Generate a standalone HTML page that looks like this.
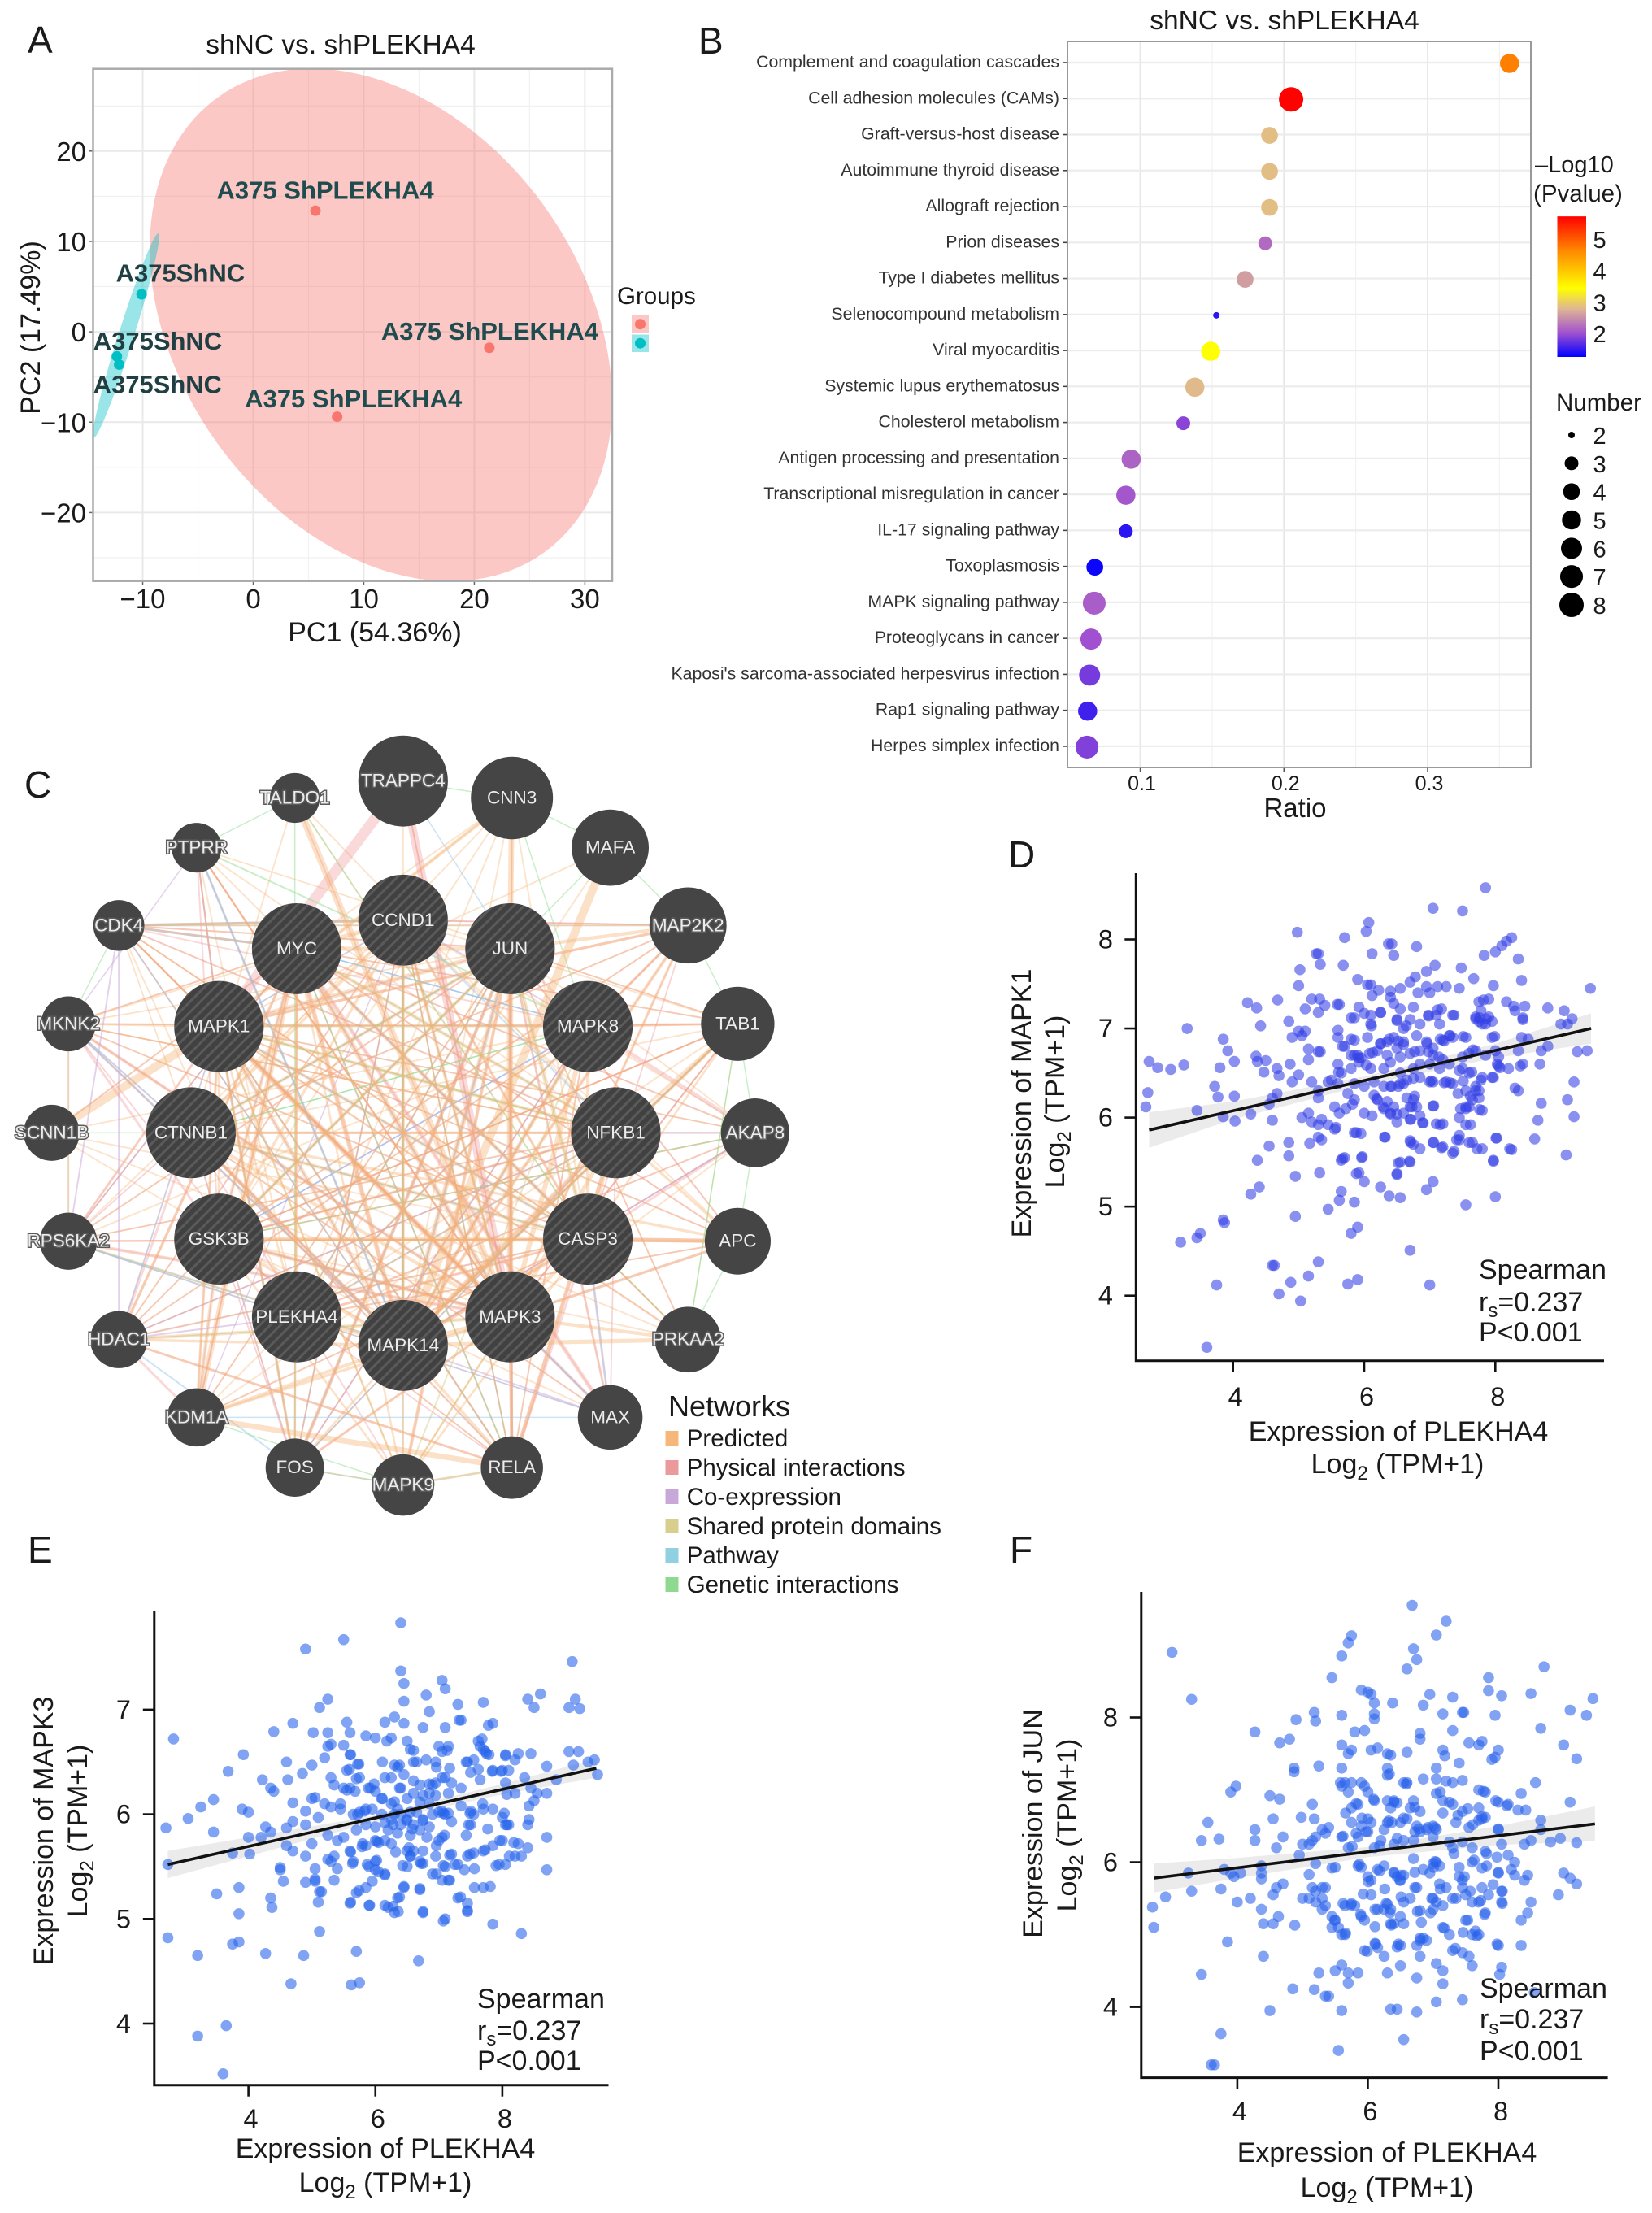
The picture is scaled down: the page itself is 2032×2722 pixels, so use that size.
<!DOCTYPE html>
<html lang="en"><head><meta charset="utf-8"><title>shNC vs. shPLEKHA4 figure</title>
<style>
html,body{margin:0;padding:0;background:#fff}
svg{display:block}
text{font-family:"Liberation Sans",Arial,sans-serif;fill:#1a1a1a}
</style></head>
<body>
<svg id="fig" xmlns="http://www.w3.org/2000/svg" width="2032" height="2722" viewBox="0 0 2032 2722">
<defs>
<pattern id="hatch" patternUnits="userSpaceOnUse" width="9" height="9" patternTransform="rotate(45)"><rect width="9" height="9" fill="#414141"/><rect width="3" height="9" fill="#5a5a5a"/></pattern>
<linearGradient id="cbar" x1="0" y1="1" x2="0" y2="0"></linearGradient>
<clipPath id="clipA"><rect x="114.5" y="84.7" width="638.5" height="630"/></clipPath>
</defs>
<rect width="2032" height="2722" fill="#fff"/>

<g id="panelA"></g>
<g id="panelB"></g>
<g id="panelC"></g>
<g id="panelD"></g>
<g id="panelE"></g>
<g id="panelF"></g>

<text x="34" y="65" font-size="46">A</text>
<text x="859" y="66" font-size="46">B</text>
<text x="30" y="981" font-size="46">C</text>
<text x="1240" y="1067" font-size="46">D</text>
<text x="34" y="1922" font-size="46">E</text>
<text x="1242" y="1922" font-size="46">F</text>

<text x="419" y="66" font-size="33.5" text-anchor="middle">shNC vs. shPLEKHA4</text>
<text x="461" y="789" font-size="34" text-anchor="middle">PC1 (54.36%)</text>
<text transform="translate(49,403) rotate(-90)" font-size="34" text-anchor="middle">PC2 (17.49%)</text>
<text x="759" y="374" font-size="29.5">Groups</text>

<text x="1580" y="36" font-size="33.5" text-anchor="middle">shNC vs. shPLEKHA4</text>
<text x="1593" y="1005" font-size="33" text-anchor="middle">Ratio</text>
<text x="1888" y="212" font-size="29">–Log10</text>
<text x="1886" y="248" font-size="29.5">(Pvalue)</text>
<text x="1914" y="505" font-size="29.5">Number</text>

<text x="822" y="1742" font-size="36">Networks</text>

<text x="1720" y="1772" font-size="34" text-anchor="middle">Expression of PLEKHA4</text>
<text x="1719" y="1812" font-size="34" text-anchor="middle">Log<tspan dy="8" font-size="24">2</tspan><tspan dy="-8"> (TPM+1)</tspan></text>
<text transform="translate(1268,1357) rotate(-90)" font-size="34" text-anchor="middle">Expression of MAPK1</text>
<text transform="translate(1309,1355) rotate(-90)" font-size="34" text-anchor="middle">Log<tspan dy="8" font-size="24">2</tspan><tspan dy="-8"> (TPM+1)</tspan></text>
<text x="1819" y="1573" font-size="34">Spearman</text>
<text x="1819" y="1613" font-size="34">r<tspan dy="7" font-size="24">s</tspan><tspan dy="-7">=0.237</tspan></text>
<text x="1819" y="1650" font-size="34">P&lt;0.001</text>

<text x="474" y="2654" font-size="34" text-anchor="middle">Expression of PLEKHA4</text>
<text x="474" y="2696" font-size="34" text-anchor="middle">Log<tspan dy="8" font-size="24">2</tspan><tspan dy="-8"> (TPM+1)</tspan></text>
<text transform="translate(65,2252) rotate(-90)" font-size="34" text-anchor="middle">Expression of MAPK3</text>
<text transform="translate(107,2252) rotate(-90)" font-size="34" text-anchor="middle">Log<tspan dy="8" font-size="24">2</tspan><tspan dy="-8"> (TPM+1)</tspan></text>
<text x="587" y="2470" font-size="34">Spearman</text>
<text x="587" y="2509" font-size="34">r<tspan dy="7" font-size="24">s</tspan><tspan dy="-7">=0.237</tspan></text>
<text x="587" y="2546" font-size="34">P&lt;0.001</text>

<text x="1706" y="2659" font-size="34" text-anchor="middle">Expression of PLEKHA4</text>
<text x="1706" y="2702" font-size="34" text-anchor="middle">Log<tspan dy="8" font-size="24">2</tspan><tspan dy="-8"> (TPM+1)</tspan></text>
<text transform="translate(1282,2243) rotate(-90)" font-size="34" text-anchor="middle">Expression of JUN</text>
<text transform="translate(1324,2245) rotate(-90)" font-size="34" text-anchor="middle">Log<tspan dy="8" font-size="24">2</tspan><tspan dy="-8"> (TPM+1)</tspan></text>
<text x="1820" y="2457" font-size="34">Spearman</text>
<text x="1820" y="2495" font-size="34">r<tspan dy="7" font-size="24">s</tspan><tspan dy="-7">=0.237</tspan></text>
<text x="1820" y="2534" font-size="34">P&lt;0.001</text>
</svg>

<script>
// ---------- Panel A data ----------
const pcaTicksX = [-10, 0, 10, 20, 30];
const pcaTicksY = [-20, -10, 0, 10, 20];
const pcaMinorX = [-5, 5, 15, 25];
const pcaMinorY = [-25, -15, -5, 5, 15, 25];
const shPlekhaPoints = [[5.63, 13.4], [21.36, -1.77], [7.59, -9.4]];
const shNcPoints = [[-10.1, 4.15], [-12.34, -2.72], [-12.13, -3.63]];
const shPlekhaLabels = ["A375 ShPLEKHA4", "A375 ShPLEKHA4", "A375 ShPLEKHA4"];
const shNcLabels = ["A375ShNC", "A375ShNC", "A375ShNC"];
// ellipse summary: centre x, centre y, half-width, half-height, correlation
const shPlekhaEllipse = [11.55, 0.76, 20.92, 28.37, -0.3];
const shNcEllipse = [-11.5, -0.4, 3, 11.3, 0.97];

// ---------- Panel B data ----------
const pathways = ["Complement and coagulation cascades", "Cell adhesion molecules (CAMs)", "Graft-versus-host disease", "Autoimmune thyroid disease", "Allograft rejection", "Prion diseases", "Type I diabetes mellitus", "Selenocompound metabolism", "Viral myocarditis", "Systemic lupus erythematosus", "Cholesterol metabolism", "Antigen processing and presentation", "Transcriptional misregulation in cancer", "IL-17 signaling pathway", "Toxoplasmosis", "MAPK signaling pathway", "Proteoglycans in cancer", "Kaposi's sarcoma-associated herpesvirus infection", "Rap1 signaling pathway", "Herpes simplex infection"];
const pathwayRatio = [0.357, 0.205, 0.19, 0.19, 0.19, 0.187, 0.173, 0.153, 0.149, 0.138, 0.13, 0.0937, 0.09, 0.09, 0.0684, 0.068, 0.0657, 0.0648, 0.0634, 0.063];
const pathwayNumber = [5, 8, 4, 4, 4, 3, 4, 2, 5, 5, 3, 5, 5, 3, 4, 7, 6, 6, 5, 7];
const pathwayLogP = [4.7, 5.7, 2.85, 2.85, 2.85, 2.2, 2.6, 1.45, 3.43, 2.82, 1.9, 2.15, 2.05, 1.45, 1.3, 2.1, 2.0, 1.8, 1.55, 1.85];
const ratioTicks = [0.1, 0.2, 0.3];
const ratioMinor = [0.15, 0.25, 0.35];
const colorbarTicks = [2, 3, 4, 5];
const numberLegend = [2, 3, 4, 5, 6, 7, 8];

// ---------- Panel C data ----------
const geneNodes = [
["TRAPPC4",648,124,72,86,0],["CNN3",823,156,66,78,0],["MAFA",981,250,62,72,0],["MAP2K2",1106,397,62,72,0],["TAB1",1186,583,59,70,0],["AKAP8",1214,789,55,65,0],["APC",1186,994,53,63,0],["PRKAA2",1106,1180,53,62,0],["MAX",981,1327,52,61,0],["RELA",823,1422,50,59,0],["MAPK9",648,1455,50,58,0],["FOS",474,1422,47,55,0],["KDM1A",316,1327,47,55,0],["HDAC1",191,1180,46,54,0],["RPS6KA2",110,994,46,54,0],["SCNN1B",83,789,45,53,0],["MKNK2",110,583,44,52,0],["CDK4",191,397,41,48,0],["PTPRR",316,250,40,47,0],["TALDO1",474,156,40,47,0],
["CCND1",648,387,72,86,1],["JUN",820,441,72,86,1],["MAPK8",945,588,72,86,1],["NFKB1",990,789,72,86,1],["CASP3",945,990,72,86,1],["MAPK3",820,1137,72,86,1],["MAPK14",648,1191,72,86,1],["PLEKHA4",477,1137,72,86,1],["GSK3B",352,990,72,86,1],["CTNNB1",307,789,72,86,1],["MAPK1",352,588,72,86,1],["MYC",477,441,72,86,1]];
const genesWithHalo = ["TRAPPC4","MAP2K2","AKAP8","PRKAA2","MAPK9","KDM1A","HDAC1","RPS6KA2","SCNN1B","MKNK2","CDK4","PTPRR","TALDO1"];
const physicalEdges = ["TRAPPC4 MAPK1 13","TRAPPC4 MAPK3 10","AKAP8 MAPK8 5","AKAP8 CASP3 3","AKAP8 PLEKHA4 2","AKAP8 MYC 2","APC CASP3 5","APC JUN 2","APC MAPK3 3","APC MYC 2","MAX JUN 3","MAX MYC 5","MAX MAPK3 4","MAX CASP3 3","RELA JUN 3","RELA MAPK3 4","RELA NFKB1 4","RELA MYC 2","RELA CASP3 3","FOS JUN 4","FOS MAPK3 3","FOS MAPK1 3","FOS MYC 2","HDAC1 MYC 3","HDAC1 RELA 3","HDAC1 MAPK1 2","HDAC1 CTNNB1 3","KDM1A HDAC1 3","KDM1A MYC 2","MAPK1 MAPK3 5","JUN MAPK3 4","JUN MAPK14 3","MYC MAPK14 4","MYC MAPK3 3","CDK4 CCND1 3","CDK4 JUN 2","CDK4 MAPK8 2","CDK4 MAPK3 2","CDK4 MYC 3","CDK4 NFKB1 2","MAP2K2 MAPK1 3","MAP2K2 MAPK3 2","MAP2K2 CCND1 2","MAP2K2 CDK4 2","MAP2K2 PLEKHA4 2","MKNK2 MAPK3 4","MKNK2 MAPK14 3","MKNK2 GSK3B 3","RPS6KA2 MAPK3 4","RPS6KA2 MAPK1 3","RPS6KA2 MAPK14 3","RPS6KA2 CASP3 2","RPS6KA2 MKNK2 2","PTPRR MAPK3 2","PTPRR MAPK1 2","PTPRR GSK3B 2","TAB1 MAPK14 3","TAB1 MAPK8 2","TAB1 GSK3B 2","TAB1 MAPK3 2","MAPK8 MAPK14 3","MAPK8 JUN 3","CTNNB1 NFKB1 2","CTNNB1 MAPK14 3","GSK3B MAPK3 3","GSK3B NFKB1 2","NFKB1 MAPK14 3","CCND1 MAPK3 2","CCND1 CASP3 2","CASP3 PLEKHA4 3","CASP3 MAPK14 3","MAPK9 JUN 3","MAPK9 CTNNB1 2","MAPK9 RELA 2","MAPK9 FOS 2","PRKAA2 MYC 2","PRKAA2 MAPK1 2"];
const predictedEdges = ["SCNN1B MAPK1 12","MAFA MAPK14 12","TALDO1 MAPK3 10","CNN3 MAPK1 5","CNN3 JUN 8","JUN MAPK1 7","JUN MYC 6","JUN MAPK3 9","JUN MAPK14 7","JUN CASP3 6","JUN GSK3B 5","JUN CTNNB1 5","JUN PLEKHA4 3","MAPK8 MAPK3 7","MAPK8 MAPK14 6","MAPK8 CASP3 5","MAPK8 PLEKHA4 3","MYC MAPK3 8","MYC CASP3 6","MYC MAPK14 7","MYC PLEKHA4 4","MYC GSK3B 5","MYC CCND1 5","MYC NFKB1 5","MAPK1 MAPK3 9","MAPK1 MAPK14 6","MAPK1 CASP3 5","MAPK1 NFKB1 5","MAPK1 GSK3B 4","MAPK1 PLEKHA4 3","CCND1 MAPK3 5","CCND1 CASP3 4","CCND1 CTNNB1 4","CCND1 GSK3B 4","CCND1 MAPK14 5","CTNNB1 MAPK3 5","CTNNB1 NFKB1 4","CTNNB1 CASP3 5","CTNNB1 MAPK14 5","GSK3B MAPK3 6","GSK3B NFKB1 4","GSK3B CASP3 5","GSK3B MAPK14 5","NFKB1 MAPK3 6","NFKB1 MAPK14 7","NFKB1 CASP3 4","NFKB1 PLEKHA4 3","CASP3 MAPK3 6","CASP3 MAPK14 6","CASP3 PLEKHA4 3","MAPK3 MAPK14 7","MAPK14 PLEKHA4 4","MAP2K2 MAPK1 4","MAP2K2 MAPK14 5","MAP2K2 MAPK3 4","MAP2K2 JUN 5","MAP2K2 MAPK8 4","TAB1 MAPK14 5","TAB1 NFKB1 4","TAB1 CASP3 3","TAB1 MAPK8 3","TAB1 GSK3B 2","APC CASP3 6","APC GSK3B 4","APC CTNNB1 4","APC MAPK3 4","APC NFKB1 4","PRKAA2 MAPK14 6","PRKAA2 MAPK3 5","PRKAA2 MAPK1 3","PRKAA2 CASP3 2","KDM1A MAPK14 5","KDM1A GSK3B 5","KDM1A MYC 8","KDM1A MAPK1 4","KDM1A RELA 8","KDM1A MAPK3 4","HDAC1 MAPK3 5","HDAC1 MYC 4","HDAC1 MAPK14 4","HDAC1 CASP3 3","HDAC1 RELA 3","FOS JUN 5","FOS MAPK1 4","FOS MAPK3 3","FOS MAPK14 3","FOS MYC 3","FOS CTNNB1 2","MAPK9 MAPK1 3","MAPK9 JUN 5","MAPK9 MAPK3 3","MAPK9 GSK3B 3","MAPK9 MYC 3","MAPK9 CASP3 3","RELA NFKB1 6","RELA JUN 4","RELA MAPK14 4","RELA MAPK1 3","RELA MAPK3 4","RELA CTNNB1 3","CDK4 CCND1 4","CDK4 MYC 3","CDK4 MAPK3 3","CDK4 CTNNB1 2","CDK4 CASP3 2","MKNK2 MAPK1 3","MKNK2 MAPK3 2","MKNK2 JUN 2","MKNK2 NFKB1 2","RPS6KA2 MAPK1 2","RPS6KA2 MAPK3 2","RPS6KA2 CASP3 2","PTPRR MAPK3 3","PTPRR MAPK1 2","PTPRR JUN 2"];
const coexpressionEdges = ["CDK4 HDAC1 2","CDK4 RPS6KA2 2","MKNK2 PTPRR 1.5","PTPRR MAPK1 2","CTNNB1 FOS 2","GSK3B KDM1A 1.5","HDAC1 PLEKHA4 2","AKAP8 NFKB1 2","MAX MAPK14 2","CCND1 MAPK8 2","JUN RELA 2","AKAP8 MAPK14 2","MYC RPS6KA2 1.5","MAPK1 JUN 1.5","MAPK8 FOS 1.5","GSK3B MAPK8 1.5","CTNNB1 RELA 1.5","PLEKHA4 JUN 1.5","CCND1 KDM1A 1.5","NFKB1 HDAC1 1.5","CASP3 MYC 1.5"];
const sharedEdges = ["MAPK1 MAPK9 2","MAPK14 MAPK9 2","MAPK3 MAPK9 2","MAPK8 MAPK9 2","RELA MAPK9 3","PRKAA2 TAB1 1.5","MKNK2 RPS6KA2 1.5","CDK4 MAP2K2 2","MAPK1 MAPK8 2"];
const pathwayEdges = ["PTPRR MAPK14 3","CDK4 MYC 3","CDK4 CCND1 3","MKNK2 CTNNB1 2","MKNK2 MAPK14 2","TRAPPC4 JUN 1.5","JUN MAPK14 2","MAPK3 MAX 2","RPS6KA2 PLEKHA4 2","HDAC1 FOS 2","CASP3 MAX 2","CCND1 NFKB1 2","MAPK8 GSK3B 2","MAX KDM1A 1.5","MYC CASP3 1.5","JUN CTNNB1 1.5","CDK4 MAPK14 1.5","MAPK1 RELA 1.5","GSK3B JUN 1.5","PLEKHA4 NFKB1 1.5","MAPK8 PLEKHA4 1.5","CTNNB1 CASP3 1.5","MYC MAPK8 1.5","CCND1 MAPK1 1.5","HDAC1 MAPK1 1.5","FOS NFKB1 1.5","MAX PLEKHA4 1.5"];
const geneticEdges = ["TRAPPC4 CNN3 1.5","CNN3 MAPK8 1.5","PTPRR MAPK8 2","TALDO1 FOS 1.5","TALDO1 CASP3 1.5","AKAP8 TAB1 1.5","TAB1 PRKAA2 1.5","APC PRKAA2 1.5","CASP3 PRKAA2 1.5","FOS MAPK9 1.5","KDM1A MAPK9 1.5","RPS6KA2 MAPK14 1.5","HDAC1 MAPK3 1.5","MAPK1 NFKB1 1.5","MAPK8 CTNNB1 1.5","JUN GSK3B 1.5","JUN CASP3 1.5","MAFA MAP2K2 1.5","MAFA JUN 1.5","CNN3 MAFA 1.5","TALDO1 PTPRR 1.5","CDK4 MKNK2 1.5","SCNN1B CTNNB1 1.5","AKAP8 APC 1.5","MAP2K2 TAB1 1.5","MAPK14 TAB1 1.5","GSK3B AKAP8 1.5","CTNNB1 JUN 1.5","MYC RELA 1.5","CCND1 MAPK14 1.5"];
// thin edges, one hub per string followed by its partners
const thinPredictedEdges = ["MAPK1 CNN3 MAFA TAB1 AKAP8 APC MAX RELA CDK4 PTPRR","MYC CNN3 TAB1 AKAP8 APC PRKAA2 MAX RELA MKNK2 RPS6KA2 SCNN1B","JUN TAB1 AKAP8 APC PRKAA2 MAX HDAC1 KDM1A RPS6KA2 CDK4","MAPK3 TAB1 AKAP8 CDK4 MKNK2 SCNN1B PTPRR TRAPPC4 CNN3","MAPK14 CDK4 PTPRR CNN3 TRAPPC4 MKNK2 SCNN1B AKAP8 TAB1","CASP3 CDK4 MKNK2 SCNN1B PTPRR RPS6KA2 TALDO1 CNN3 KDM1A","NFKB1 CDK4 PTPRR MKNK2 RPS6KA2 HDAC1 KDM1A FOS TALDO1","GSK3B CNN3 MAP2K2 TAB1 AKAP8 PRKAA2 MAX RELA","CTNNB1 TAB1 MAP2K2 MAX PRKAA2 AKAP8 CNN3 TALDO1","CCND1 TAB1 AKAP8 APC HDAC1 RPS6KA2 FOS RELA MKNK2","MAPK8 HDAC1 RPS6KA2 KDM1A RELA FOS SCNN1B MKNK2","PLEKHA4 TAB1 AKAP8 APC MAFA CNN3 CDK4 PTPRR"];
const thinPhysicalEdges = ["MAPK1 APC TAB1 AKAP8 RELA MAX KDM1A","MYC TAB1 RPS6KA2 SCNN1B MKNK2 KDM1A","JUN KDM1A HDAC1 RPS6KA2 TAB1 PRKAA2","MAPK3 TAB1 CDK4 PTPRR TALDO1 CNN3 TRAPPC4","MAPK14 CDK4 PTPRR TAB1 AKAP8 MAP2K2","CASP3 CDK4 MKNK2 MAP2K2 RPS6KA2 KDM1A","NFKB1 MKNK2 RPS6KA2 HDAC1 FOS MAX","GSK3B MAP2K2 TAB1 AKAP8 RELA FOS","CTNNB1 MAP2K2 MAX AKAP8 RPS6KA2 MKNK2","CCND1 MAPK9 FOS RELA MAPK1 MAP2K2 HDAC1","MAPK8 MKNK2 RELA FOS HDAC1 MAP2K2","PLEKHA4 MKNK2 RPS6KA2 MAX RELA APC"];
const thinPastelEdges = ["MAPK1 MAPK14 CASP3 FOS","MYC MAPK8 NFKB1 GSK3B","JUN PLEKHA4 CTNNB1 FOS","MAPK3 GSK3B MYC CCND1","MAPK14 CCND1 MAPK8 CTNNB1","CASP3 CTNNB1 HDAC1 MAPK1","NFKB1 GSK3B PLEKHA4 MAPK1","CCND1 FOS RELA MAPK14","MAPK8 CTNNB1 GSK3B MYC"];
const networkTypes = ["Predicted", "Physical interactions", "Co-expression", "Shared protein domains", "Pathway", "Genetic interactions"];

// ---------- Panels D–F data ----------
const expressionTicks = [4, 6, 8];
const mapk1Ticks = [4, 5, 6, 7, 8];
const mapk3Ticks = [4, 5, 6, 7];
const junTicks = [4, 6, 8];
const mapk1Fit = [[2.72, 5.86], [9.46, 7.0]];
const mapk1BandX = [2.72, 4, 6, 8, 9.46];
const mapk1BandLow = [5.66, 5.98, 6.36, 6.67, 6.83];
const mapk1BandHigh = [6.06, 6.18, 6.46, 6.83, 7.17];
const mapk3Fit = [[2.73, 5.52], [9.48, 6.44]];
const mapk3BandX = [2.73, 4, 6, 8, 9.48];
const mapk3BandLow = [5.39, 5.6, 5.93, 6.19, 6.35];
const mapk3BandHigh = [5.65, 5.78, 5.99, 6.29, 6.53];
const junFit = [[2.72, 5.78], [9.48, 6.53]];
const junBandX = [2.72, 4, 6, 8, 9.48];
const junBandLow = [5.58, 5.78, 6.07, 6.24, 6.29];
const junBandHigh = [5.98, 6.06, 6.21, 6.5, 6.77];

const mapk1Points = [[7.85,8.58],[7.05,8.35],[7.5,8.32],[6.07,8.19],[6.03,8.09],[4.98,8.08],[5.7,8.02],[6.37,7.95],[6.42,7.95],[6.8,7.92],[6.12,7.84],[6.45,7.82],[5.27,7.84],[5.3,7.84],[5.33,7.72],[5.68,7.71],[5.02,7.66],[7.08,7.71],[7.48,7.68],[6.95,7.64],[8.25,8.02],[8.17,7.98],[8.1,7.93],[8.0,7.86],[7.83,7.82],[8.35,7.78],[7.67,7.56],[8.4,7.54],[6.78,7.58],[6.7,7.52],[5.9,7.55],[6.05,7.49],[6.1,7.49],[5.0,7.48],[7.97,7.48],[7.45,7.45],[7.25,7.47],[7.12,7.47],[6.95,7.47],[6.55,7.45],[6.4,7.42],[6.22,7.43],[6.12,7.37],[6.82,7.4],[7.0,7.4],[9.45,7.45],[4.22,7.29],[4.36,7.23],[4.68,7.32],[5.2,7.33],[5.32,7.33],[5.4,7.26],[5.62,7.27],[5.1,7.22],[5.3,7.18],[5.92,7.24],[6.4,7.35],[6.45,7.28],[6.55,7.22],[6.75,7.24],[6.98,7.15],[7.1,7.15],[7.18,7.22],[7.37,7.15],[7.75,7.3],[7.82,7.32],[7.9,7.33],[8.17,7.3],[8.28,7.25],[8.45,7.25],[8.8,7.23],[9.05,7.2],[9.17,7.11],[9.1,7.05],[9.0,7.05],[4.85,7.08],[4.42,7.03],[3.3,7.0],[5.0,6.97],[5.1,6.97],[5.6,6.98],[5.85,7.12],[6.1,7.15],[6.1,7.05],[6.25,7.18],[6.5,7.1],[6.6,7.0],[6.7,7.1],[6.85,7.05],[7.15,7.05],[7.7,7.13],[7.75,7.08],[7.85,7.05],[7.95,7.08],[7.9,7.13],[8.3,7.2],[8.42,7.12],[8.42,7.1],[3.85,6.88],[4.9,6.9],[5.05,6.92],[5.6,6.9],[5.85,6.87],[6.05,6.9],[6.25,6.83],[6.35,6.85],[6.45,6.9],[6.6,6.85],[6.8,6.92],[6.95,6.85],[7.2,6.87],[7.3,6.92],[7.35,6.9],[7.55,6.9],[7.95,6.9],[8.4,6.9],[8.5,6.88],[8.8,6.8],[3.92,6.75],[5.15,6.77],[5.3,6.74],[5.33,6.74],[5.7,6.8],[5.85,6.7],[5.9,6.7],[5.95,6.67],[6.08,6.72],[6.2,6.75],[6.35,6.7],[6.5,6.78],[6.55,6.68],[6.7,6.72],[6.85,6.75],[7.05,6.78],[7.05,6.7],[7.2,6.65],[7.5,6.68],[7.6,6.72],[7.7,6.75],[7.85,6.7],[8.0,6.75],[8.05,6.68],[8.35,6.75],[8.7,6.75],[9.25,6.74],[9.4,6.75],[2.72,6.63],[2.85,6.56],[3.05,6.54],[3.25,6.59],[3.8,6.56],[4.02,6.63],[4.35,6.69],[4.37,6.63],[4.5,6.64],[4.47,6.51],[4.67,6.55],[4.7,6.47],[4.87,6.6],[5.0,6.48],[4.9,6.4],[5.15,6.65],[5.6,6.6],[5.5,6.42],[5.65,6.5],[5.8,6.55],[5.92,6.62],[6.1,6.55],[6.3,6.55],[6.4,6.62],[6.55,6.5],[6.75,6.55],[6.85,6.6],[7.0,6.6],[7.15,6.55],[7.3,6.6],[7.5,6.55],[7.6,6.5],[7.8,6.45],[8.05,6.58],[8.2,6.55],[8.38,6.58],[8.42,6.6],[8.68,6.6],[3.72,6.35],[3.77,6.23],[4.02,6.24],[5.2,6.4],[5.3,6.3],[5.45,6.4],[5.6,6.38],[5.85,6.38],[6.0,6.35],[6.15,6.4],[6.3,6.35],[6.42,6.35],[6.55,6.38],[6.65,6.42],[6.85,6.45],[7.0,6.4],[7.05,6.4],[7.25,6.4],[7.35,6.38],[7.55,6.3],[7.7,6.35],[7.75,6.3],[7.95,6.45],[8.3,6.33],[8.35,6.3],[9.2,6.4],[2.7,6.28],[5.3,6.22],[5.75,6.27],[5.85,6.2],[6.15,6.25],[6.2,6.2],[6.35,6.18],[6.45,6.12],[6.65,6.22],[6.75,6.2],[6.7,6.12],[6.8,6.12],[7.05,6.13],[7.55,6.1],[7.6,6.12],[7.65,6.2],[7.75,6.22],[4.27,6.04],[4.55,6.15],[4.6,6.22],[4.67,6.27],[8.7,6.16],[9.1,6.2],[2.67,6.12],[3.45,6.08],[3.85,6.01],[4.03,5.96],[4.6,5.97],[5.05,6.0],[5.15,6.05],[5.2,5.95],[5.3,5.92],[5.35,5.98],[5.45,5.92],[5.55,6.12],[5.62,6.05],[5.72,6.1],[5.82,6.15],[6.0,6.05],[6.12,6.02],[6.3,6.1],[6.4,6.05],[6.5,5.95],[6.6,6.05],[6.7,5.98],[6.85,6.02],[6.9,5.94],[7.1,5.93],[7.2,5.93],[7.45,6.0],[7.55,5.92],[7.8,6.08],[8.65,5.97],[9.2,6.01],[5.55,5.87],[5.85,5.83],[5.95,5.82],[6.32,5.78],[5.17,5.71],[5.3,5.78],[5.35,5.75],[4.85,5.72],[4.55,5.68],[6.7,5.74],[6.75,5.7],[6.85,5.65],[7.05,5.72],[7.2,5.67],[7.45,5.8],[7.45,5.75],[7.65,5.72],[7.8,5.65],[8.02,5.77],[8.25,5.64],[8.6,5.76],[7.35,5.6],[4.37,5.52],[4.85,5.57],[5.65,5.52],[5.7,5.55],[5.97,5.56],[5.92,5.38],[6.55,5.5],[6.7,5.5],[7.97,5.52],[9.08,5.58],[5.32,5.38],[4.95,5.34],[6.0,5.28],[6.5,5.36],[6.25,5.22],[6.38,5.12],[6.55,5.1],[6.95,5.19],[7.05,5.28],[8.0,5.11],[7.55,5.02],[4.27,5.14],[4.4,5.22],[5.65,5.17],[5.62,5.07],[5.85,5.05],[5.45,4.97],[4.95,4.89],[3.85,4.85],[3.87,4.82],[3.2,4.6],[3.45,4.65],[3.5,4.7],[5.8,4.7],[5.9,4.77],[6.7,4.51],[4.6,4.34],[4.63,4.34],[5.3,4.38],[5.15,4.22],[3.75,4.12],[4.88,4.15],[4.7,4.02],[5.03,3.94],[5.75,4.13],[5.9,4.18],[7.0,4.12],[3.6,3.42]];
const mapk1DensePoints = [[5.80,6.70],[5.92,6.67],[6.03,6.59],[6.25,6.83],[6.38,6.88],[6.52,6.86],[6.60,6.82],[6.50,7.09],[6.64,7.03],[6.98,7.14],[7.12,7.21],[7.31,6.92],[7.22,6.86],[7.16,6.88],[7.76,7.12],[7.86,7.11],[7.70,7.11],[7.80,7.05],[7.78,7.20],[6.13,6.73],[5.61,6.51],[7.02,6.41],[7.22,6.39],[7.31,6.39],[6.40,6.35],[6.52,6.35],[6.60,6.38],[6.19,6.21],[6.29,6.12],[6.40,6.04],[6.50,6.04],[6.73,6.12],[6.77,6.24],[7.62,6.24],[7.70,6.30],[7.78,6.42],[7.47,6.10],[7.55,6.12],[8.03,6.60],[8.07,6.56],[7.41,5.75],[6.71,5.72],[5.67,5.54],[5.57,5.89],[5.59,7.27],[5.80,7.12],[6.0,7.17],[6.11,7.03],[6.25,7.18],[5.80,6.88],[5.67,6.80],[6.77,6.74],[6.96,6.83],[6.98,6.74],[7.14,6.68],[7.51,6.91],[7.35,7.15],[7.99,6.91],[7.66,6.76],[7.64,6.51],[7.45,6.53],[7.97,6.45],[7.51,6.41],[6.75,6.44],[7.43,6.27],[7.06,6.13],[7.76,6.09],[7.62,5.92],[6.71,5.98],[6.89,5.94],[7.16,5.92],[7.06,5.72],[7.18,5.66],[7.37,5.62],[7.60,5.72],[7.72,5.65],[8.01,5.77],[7.97,5.51],[8.22,5.65],[6.52,5.49],[6.69,5.51],[5.96,5.55],[6.31,5.78],[5.88,5.83],[6.50,5.37],[5.88,5.37]];

const mapk3Points = [[6.4,7.83],[5.5,7.67],[4.9,7.58],[9.1,7.46],[6.4,7.37],[6.45,7.25],[7.05,7.28],[7.1,7.2],[6.8,7.14],[8.6,7.15],[8.4,7.1],[8.5,7.02],[9.05,7.02],[9.15,7.1],[9.22,7.01],[5.25,7.1],[5.12,7.02],[6.45,7.08],[7.3,7.05],[7.7,7.07],[6.85,6.98],[7.32,6.9],[7.35,6.9],[6.15,6.88],[6.3,6.93],[6.45,6.87],[6.75,6.83],[7.1,6.83],[7.78,6.85],[7.85,6.87],[4.7,6.87],[5.55,6.88],[5.6,6.78],[5.25,6.78],[5.02,6.78],[5.85,6.75],[6.0,6.73],[6.18,6.7],[6.25,6.73],[6.5,6.7],[4.4,6.79],[2.82,6.72],[5.25,6.65],[5.3,6.67],[5.5,6.66],[6.55,6.62],[7.0,6.65],[7.15,6.65],[7.05,6.6],[7.62,6.7],[7.68,6.72],[7.65,6.65],[7.7,6.62],[7.75,6.58],[5.6,6.57],[5.2,6.54],[5.72,6.48],[5.0,6.47],[4.6,6.5],[3.92,6.57],[6.3,6.47],[6.35,6.45],[6.65,6.5],[6.8,6.52],[6.95,6.5],[7.45,6.5],[7.55,6.52],[8.05,6.56],[8.25,6.58],[8.45,6.58],[9.05,6.6],[9.2,6.6],[9.35,6.5],[9.45,6.52],[8.2,6.52],[8.7,6.46],[9.12,6.47],[9.5,6.38],[8.85,6.33],[3.68,6.41],[4.22,6.33],[4.62,6.33],[4.85,6.39],[5.3,6.35],[5.35,6.28],[5.5,6.25],[5.6,6.25],[5.68,6.22],[5.55,6.42],[5.75,6.35],[5.92,6.25],[6.0,6.22],[6.15,6.35],[6.25,6.35],[6.4,6.25],[6.45,6.38],[6.6,6.32],[6.7,6.28],[6.85,6.2],[6.95,6.3],[7.1,6.35],[7.2,6.3],[7.35,6.25],[7.5,6.4],[7.65,6.33],[7.85,6.42],[8.0,6.42],[8.1,6.42],[8.05,6.3],[8.2,6.2],[8.35,6.35],[8.45,6.25],[8.55,6.2],[8.7,6.2],[8.5,6.13],[8.42,6.08],[4.35,6.25],[4.4,6.22],[3.45,6.14],[3.25,6.07],[3.05,5.96],[2.7,5.87],[3.45,5.83],[3.9,6.05],[4.0,6.02],[4.7,6.11],[5.05,6.16],[5.0,6.15],[5.2,6.1],[5.3,6.07],[5.45,6.1],[5.45,6.05],[4.9,6.03],[5.1,5.97],[4.7,5.93],[4.6,5.87],[4.9,5.9],[5.65,6.0],[5.75,6.02],[5.85,6.05],[5.95,6.05],[6.1,6.15],[6.25,6.1],[6.35,6.05],[6.5,6.15],[6.6,6.2],[6.7,6.12],[6.85,6.1],[6.9,6.0],[7.0,6.02],[7.05,6.03],[7.1,6.0],[7.2,5.93],[7.35,6.08],[7.5,6.03],[7.55,6.0],[7.7,6.05],[7.85,6.05],[8.0,5.97],[8.05,5.9],[8.1,5.9],[8.42,5.95],[8.4,5.9],[7.5,5.9],[6.15,5.92],[6.25,5.95],[6.4,5.9],[6.5,5.95],[6.6,5.9],[6.75,5.95],[6.0,5.88],[5.85,5.9],[5.7,5.85],[5.5,5.78],[5.4,5.75],[5.25,5.8],[5.0,5.72],[4.27,5.88],[4.35,5.83],[4.2,5.78],[4.0,5.78],[3.75,5.63],[4.02,5.62],[4.6,5.7],[4.7,5.65],[4.9,5.6],[5.05,5.48],[5.05,5.36],[5.25,5.57],[5.3,5.55],[5.35,5.6],[5.4,5.48],[5.6,5.65],[5.65,5.55],[5.8,5.72],[5.85,5.7],[6.0,5.75],[6.05,5.73],[6.15,5.75],[6.25,5.72],[6.5,5.65],[6.55,5.6],[6.6,5.65],[6.75,5.65],[6.7,5.55],[6.95,5.6],[7.05,5.78],[7.2,5.62],[7.0,5.75],[7.45,5.6],[7.55,5.63],[7.7,5.65],[7.85,5.7],[8.0,5.75],[8.2,5.6],[8.3,5.6],[8.25,5.72],[8.4,5.68],[8.7,5.78],[7.95,5.52],[8.05,5.52],[7.4,5.47],[7.25,5.52],[7.1,5.5],[6.9,5.43],[7.05,5.37],[7.15,5.37],[6.5,5.5],[6.75,5.53],[5.9,5.5],[6.0,5.55],[6.05,5.45],[6.15,5.43],[5.95,5.36],[5.85,5.3],[5.7,5.25],[5.35,5.37],[5.15,5.26],[5.12,5.26],[5.1,5.16],[5.6,5.15],[5.9,5.13],[6.15,5.13],[6.2,5.11],[6.3,5.06],[6.35,5.2],[6.45,5.3],[6.7,5.28],[7.3,5.2],[7.45,5.15],[7.45,5.07],[7.7,5.3],[6.75,5.06],[7.1,5.0],[7.85,4.95],[8.3,4.86],[8.7,5.47],[4.5,5.49],[4.5,5.47],[4.55,5.36],[4.9,5.35],[5.05,5.38],[3.5,5.24],[3.85,5.3],[4.35,5.2],[4.37,5.11],[3.85,5.05],[5.12,4.88],[2.73,4.82],[3.75,4.76],[3.85,4.78],[3.2,4.65],[4.27,4.67],[4.87,4.65],[5.7,4.69],[6.68,4.6],[4.67,4.38],[5.62,4.37],[5.75,4.39],[3.65,3.98],[3.2,3.88],[3.6,3.52],[2.73,5.52],[6.3,6.0],[6.4,6.0],[6.55,6.02],[6.65,6.02],[6.2,5.85],[6.35,5.82],[6.55,5.8],[6.7,5.85],[6.85,5.88],[6.95,6.18],[7.15,6.2],[6.3,6.12],[6.1,6.0],[6.9,6.28]];
const mapk3DensePoints = [[5.55,6.23],[5.89,6.25],[5.98,6.29],[6.11,6.15],[6.38,6.25],[6.38,6.47],[6.75,6.18],[6.85,6.29],[6.96,6.45],[7.17,6.44],[7.05,6.35],[7.07,6.01],[7.15,6.01],[6.28,5.90],[6.49,5.94],[6.75,5.94],[6.58,5.86],[5.83,6.03],[5.72,6.0],[6.02,5.74],[5.79,5.69],[6.53,5.68],[6.55,5.60],[5.61,5.64],[7.09,5.80],[7.47,5.90],[7.49,6.01],[7.77,5.86],[8.07,5.90],[8.03,6.01],[7.73,6.60],[7.79,6.57],[7.98,6.41],[7.84,6.41],[7.56,5.48],[7.56,5.30],[7.17,5.37],[5.74,5.27],[6.28,5.12],[6.36,5.07],[7.07,4.98],[6.75,5.07],[5.61,5.16],[5.91,5.13],[6.38,5.21],[6.45,5.31],[6.70,5.29],[7.34,5.21],[7.45,5.08],[7.81,5.31],[6.96,5.43],[7.07,5.51],[7.30,5.52],[7.49,5.62],[7.17,5.61],[6.72,5.53],[6.43,5.51],[6.15,5.42],[6.0,5.47],[6.02,5.56],[5.64,5.53],[5.87,5.52],[7.90,5.51],[8.11,5.60],[8.18,5.73],[7.96,5.75],[7.73,5.66],[7.43,5.80],[6.81,5.78],[6.96,5.70],[6.32,5.64],[6.11,6.50],[5.74,6.48],[5.59,6.43],[5.70,6.34],[5.61,6.57],[6.60,6.50],[6.60,6.61],[7.13,6.61],[8.05,6.57],[7.43,6.50],[7.62,6.43],[8.07,6.19],[7.69,6.10]];

const junPoints = [[6.68,9.55],[7.2,9.33],[7.05,9.14],[5.75,9.13],[5.7,9.03],[3.0,8.9],[6.7,8.95],[6.75,8.8],[5.6,8.85],[6.6,8.67],[8.7,8.7],[7.85,8.55],[5.45,8.55],[5.9,8.38],[6.0,8.35],[6.05,8.32],[7.85,8.37],[8.05,8.3],[8.5,8.33],[6.95,8.32],[7.3,8.28],[3.3,8.25],[9.45,8.26],[6.1,8.2],[6.38,8.2],[6.85,8.17],[9.1,8.1],[7.15,8.05],[7.45,8.07],[7.47,8.07],[7.95,8.03],[9.35,8.03],[5.18,8.07],[5.2,7.95],[4.9,7.97],[5.6,8.03],[6.1,8.05],[6.1,7.98],[4.27,7.8],[4.8,7.7],[4.65,7.65],[5.8,7.8],[5.95,7.82],[6.8,7.78],[7.3,7.82],[6.8,7.7],[8.65,7.85],[7.55,7.65],[7.7,7.62],[7.75,7.67],[7.95,7.45],[7.9,7.42],[8.0,7.55],[9.0,7.62],[9.2,7.43],[5.6,7.62],[5.7,7.5],[5.75,7.55],[6.05,7.55],[6.15,7.58],[6.3,7.5],[6.35,7.48],[6.6,7.52],[7.15,7.55],[7.18,7.47],[4.87,7.3],[4.87,7.25],[5.25,7.33],[5.6,7.3],[6.3,7.3],[6.33,7.22],[6.3,7.2],[7.05,7.3],[7.4,7.37],[3.98,7.05],[3.9,6.97],[5.58,7.1],[5.6,7.05],[5.65,7.1],[5.75,7.1],[5.9,7.1],[5.95,7.05],[5.7,6.97],[6.0,6.97],[6.55,7.1],[6.6,7.1],[6.85,7.15],[7.05,7.15],[7.2,7.12],[7.3,7.1],[7.45,7.13],[7.7,7.0],[7.8,6.97],[8.57,7.1],[8.35,6.95],[4.5,6.92],[4.65,6.87],[6.1,6.85],[5.15,6.8],[5.75,6.75],[5.85,6.8],[6.3,6.85],[6.4,6.85],[6.45,6.82],[6.35,6.75],[6.7,6.85],[6.65,6.75],[6.8,6.7],[7.05,6.95],[7.15,6.85],[7.3,6.8],[7.45,6.7],[7.7,6.75],[7.75,6.6],[7.8,6.62],[8.0,6.83],[8.15,6.8],[8.3,6.72],[8.42,6.72],[9.1,6.83],[3.55,6.55],[4.27,6.45],[4.27,6.3],[3.45,6.3],[3.72,6.32],[4.55,6.6],[4.98,6.62],[5.18,6.6],[4.7,6.35],[5.75,6.55],[5.9,6.5],[6.0,6.6],[6.05,6.55],[6.25,6.45],[6.3,6.55],[6.37,6.55],[6.5,6.55],[6.6,6.6],[6.75,6.5],[6.72,6.42],[6.8,6.42],[6.9,6.45],[7.0,6.5],[7.05,6.45],[7.35,6.55],[7.55,6.48],[7.7,6.58],[8.0,6.45],[8.65,6.58],[8.65,6.45],[5.3,6.45],[5.4,6.48],[5.2,6.35],[5.35,6.4],[5.0,6.25],[5.1,6.25],[5.15,6.3],[4.6,6.2],[5.6,6.35],[5.85,6.35],[6.0,6.42],[6.1,6.2],[6.2,6.3],[6.4,6.25],[6.55,6.3],[6.7,6.3],[7.0,6.35],[7.25,6.28],[7.45,6.28],[7.6,6.2],[7.8,6.15],[8.05,6.25],[8.15,6.1],[8.4,6.25],[8.5,6.3],[8.8,6.28],[8.95,6.33],[9.2,6.27],[5.7,6.2],[7.3,6.2],[3.25,5.85],[3.8,5.9],[3.9,5.85],[3.95,5.8],[4.05,5.85],[4.37,5.95],[4.37,5.85],[4.37,5.77],[4.95,6.1],[5.1,5.83],[5.2,5.98],[5.45,5.92],[5.85,5.95],[5.9,5.93],[6.0,5.8],[6.05,5.75],[6.15,5.9],[6.25,5.95],[6.4,5.85],[6.45,5.8],[6.5,5.75],[6.55,5.82],[6.7,6.05],[6.85,5.9],[6.95,5.85],[7.0,5.98],[7.05,6.0],[7.1,5.95],[7.4,5.8],[7.45,5.75],[7.6,6.0],[7.75,5.92],[8.0,5.85],[8.2,5.9],[8.25,6.0],[8.25,5.82],[8.4,5.75],[8.45,5.82],[9.0,5.85],[9.1,5.78],[9.2,5.7],[2.7,5.38],[2.72,5.1],[2.9,5.52],[3.3,5.6],[3.75,5.63],[4.0,5.45],[4.2,5.5],[4.37,5.35],[4.4,5.15],[4.55,5.15],[4.63,5.25],[4.6,5.65],[4.7,5.7],[4.55,5.55],[4.88,5.13],[5.0,5.5],[5.1,5.5],[5.15,5.65],[5.2,5.6],[5.3,5.65],[5.35,5.65],[5.2,5.45],[5.3,5.5],[5.35,5.4],[5.3,5.35],[5.45,5.25],[5.5,5.2],[5.45,5.1],[5.55,5.1],[5.65,5.0],[5.6,5.0],[5.65,5.4],[5.75,5.43],[5.8,5.4],[5.9,5.25],[5.95,5.2],[6.05,5.55],[6.15,5.35],[6.25,5.35],[6.3,5.42],[6.35,5.35],[6.35,5.15],[6.4,5.15],[6.55,5.15],[6.5,5.25],[6.65,5.5],[6.55,5.45],[6.8,5.33],[6.75,5.65],[7.0,5.35],[7.0,5.5],[7.05,5.45],[7.1,5.7],[7.2,5.65],[7.15,5.4],[7.45,5.65],[7.5,5.55],[7.35,5.5],[7.6,5.45],[7.7,5.45],[7.75,5.65],[7.8,5.3],[7.85,5.55],[8.05,5.6],[8.05,5.45],[8.35,5.2],[8.45,5.3],[8.5,5.45],[8.92,5.55],[7.5,5.2],[7.15,5.1],[7.25,5.0],[7.6,5.0],[7.7,5.0],[7.65,5.05],[3.85,4.9],[4.4,4.7],[3.45,4.45],[5.95,4.78],[6.12,4.87],[6.15,4.82],[6.25,4.7],[6.45,4.83],[6.5,4.85],[6.5,4.57],[6.8,4.95],[6.75,4.85],[6.85,4.95],[6.8,4.7],[7.05,4.6],[7.15,4.5],[7.3,4.78],[7.45,4.75],[7.55,4.7],[7.6,4.57],[8.0,4.85],[8.35,4.85],[8.05,4.55],[8.02,4.45],[5.25,4.47],[5.5,4.5],[5.6,4.58],[5.7,4.47],[5.85,4.47],[5.7,4.33],[6.3,4.47],[6.75,4.4],[7.15,4.32],[7.05,4.07],[7.45,4.1],[8.55,4.2],[4.85,4.25],[5.18,4.24],[5.35,4.15],[5.4,4.15],[5.6,3.95],[4.5,3.95],[6.35,3.97],[6.45,3.97],[6.75,3.93],[6.55,3.55],[5.55,3.4],[3.75,3.63],[3.6,3.2],[3.65,3.2]];
const junDensePoints = [[6.40,6.83],[6.32,6.57],[6.78,6.46],[6.72,6.76],[6.55,6.61],[6.92,6.48],[7.03,6.48],[7.25,6.83],[7.75,6.63],[7.77,6.98],[6.59,7.08],[5.87,5.97],[6.01,5.73],[6.49,5.75],[6.51,5.82],[6.40,5.86],[7.03,6.01],[7.01,5.93],[7.48,5.80],[6.98,5.50],[7.11,5.63],[7.73,5.47],[8.06,5.43],[5.74,5.41],[6.36,5.13],[6.47,4.87],[6.11,4.88],[5.66,5.02],[7.67,4.98],[5.49,5.2],[7.98,4.87],[5.91,6.61],[5.97,6.42],[5.82,6.81],[6.09,6.87],[5.66,6.68],[5.62,6.36],[5.82,6.40],[6.18,6.23],[6.45,6.33],[5.76,6.22],[5.50,5.93],[6.18,5.88],[6.72,5.86],[6.26,5.63],[5.93,5.56],[5.62,5.43],[6.11,5.35],[6.28,5.43],[6.34,5.30],[6.51,5.52],[6.76,5.32],[6.96,5.30],[6.72,5.65],[7.30,5.50],[7.57,5.60],[7.92,5.69],[8.06,5.60],[7.79,5.28],[7.53,5.20],[7.17,5.09],[6.82,5.17],[6.11,5.11],[5.89,5.28],[7.46,5.03],[6.80,4.92],[6.90,4.92],[5.99,4.77],[7.34,4.81],[8.0,5.86],[7.82,5.95],[7.98,6.07],[7.63,6.03],[7.40,5.93],[7.32,6.12],[7.82,6.12],[8.0,6.46],[8.13,6.78],[7.96,6.85],[7.53,6.74],[7.15,6.68],[7.38,6.65],[7.61,6.52],[7.11,6.97]];

// ---------- helpers ----------
const NS = "http://www.w3.org/2000/svg";
function mk(parent, tag, attrs, content) {
  const el = document.createElementNS(NS, tag);
  for (const k in attrs) el.setAttribute(k, attrs[k]);
  if (content !== undefined) el.textContent = content;
  parent.appendChild(el);
  return el;
}
function linear(d0, d1, r0, r1) { return v => r0 + (v - d0) * (r1 - r0) / (d1 - d0); }
function fmtTick(v) { return String(v).replace("-", "\u2212"); }

// ---------- Panel A ----------
(function () {
  const g = document.getElementById("panelA");
  const X = linear(0, 30, 311.5, 719.4), Y = linear(0, 20, 408.1, 185.8);
  const L = 114.5, R = 753, T = 84.7, B = 714.7;
  pcaMinorX.forEach(v => {
    const el = mk(g, "line", {x1: X(v), x2: X(v), y1: T, y2: B, stroke: "#f1f1f1", "stroke-width": 1.2});
    
    
  });
  pcaMinorY.forEach(v => {
    const el = mk(g, "line", {x1: L, x2: R, y1: Y(v), y2: Y(v), stroke: "#f1f1f1", "stroke-width": 1.2});
    
    
  });
  pcaTicksX.forEach(v => {
    const el = mk(g, "line", {x1: X(v), x2: X(v), y1: T, y2: B, stroke: "#e9e9e9", "stroke-width": 2});
    
    
    const t = mk(g, "line", {x1: X(v), x2: X(v), y1: B, y2: B + 5, stroke: "#666", "stroke-width": 1.5});
    
    
    const lab = mk(g, "text", {x: X(v), y: 748, "font-size": 33, "text-anchor": "middle"}, fmtTick(v));
    
    
  });
  pcaTicksY.forEach(v => {
    const el = mk(g, "line", {x1: L, x2: R, y1: Y(v), y2: Y(v), stroke: "#e9e9e9", "stroke-width": 2});
    
    
    const t = mk(g, "line", {x1: L - 5, x2: L, y1: Y(v), y2: Y(v), stroke: "#666", "stroke-width": 1.5});
    
    
    const lab = mk(g, "text", {x: 106, y: Y(v) + 12, "font-size": 33, "text-anchor": "end"}, fmtTick(v));
    
    
  });
  function ellipsePath(e) {
    const [cx, cy, rx, ry, rho] = e;
    const s = Math.sqrt(1 - rho * rho);
    let d = "";
    for (let i = 0; i <= 120; i++) {
      const a = i / 120 * 2 * Math.PI;
      const px = cx + rx * Math.cos(a);
      const py = cy + ry * (rho * Math.cos(a) + s * Math.sin(a));
      d += (i ? "L" : "M") + X(px).toFixed(1) + " " + Y(py).toFixed(1);
    }
    return d + "Z";
  }
  const e1 = mk(g, "path", {d: ellipsePath(shPlekhaEllipse), fill: "#F8766D", "fill-opacity": 0.4, "clip-path": "url(#clipA)"});
  
  
  const e2 = mk(g, "path", {d: ellipsePath(shNcEllipse), fill: "#00BFC4", "fill-opacity": 0.4, "clip-path": "url(#clipA)"});
  
  
  const frame = mk(g, "rect", {x: L, y: T, width: R - L, height: B - T, fill: "none", stroke: "#aaa", "stroke-width": 2.5});
  
  
  shPlekhaPoints.forEach(p => {
    const c = mk(g, "circle", {cx: X(p[0]), cy: Y(p[1]), r: 6.5, fill: "#F8766D"});
    
    
  });
  shNcPoints.forEach(p => {
    const c = mk(g, "circle", {cx: X(p[0]), cy: Y(p[1]), r: 6.5, fill: "#00BFC4"});
    
    
  });
  // sample labels are offset from their points
  const labelOffsetsRed = [[-121.5, -14.5], [-133, -10], [-113.5, -11.5]];
  const labelOffsetsTeal = [[-31.5, -15.5], [-29, -8.5], [-32, 35]];
  shPlekhaPoints.forEach((p, i) => {
    const t = mk(g, "text", {x: X(p[0]) + labelOffsetsRed[i][0], y: Y(p[1]) + labelOffsetsRed[i][1], "font-size": 31, "font-weight": "bold", style: "fill:#1f4c4e"}, shPlekhaLabels[i]);
    
    
  });
  shNcPoints.forEach((p, i) => {
    const t = mk(g, "text", {x: X(p[0]) + labelOffsetsTeal[i][0], y: Y(p[1]) + labelOffsetsTeal[i][1], "font-size": 31, "font-weight": "bold", style: "fill:#1f3f42"}, shNcLabels[i]);
    
    
  });
  [["#F8766D", 388, "shplekha4"], ["#00BFC4", 411.5, "shnc"]].forEach(k => {
    const r = mk(g, "rect", {x: 777, y: k[1], width: 21, height: 21.5, fill: k[0], "fill-opacity": 0.4});
    
    
    const c = mk(g, "circle", {cx: 787.5, cy: k[1] + 10.7, r: 6.5, fill: k[0]});
    
    
  });
})();

// ---------- Panel B ----------
(function () {
  const g = document.getElementById("panelB");
  const L = 1313, R = 1883, T = 51, B = 944;
  const X = linear(0.1, 0.3, 1402.5, 1756);
  const Y = i => 77 + i * 44.26;
  const scaleVals = [1.25, 2.0, 2.8, 3.43, 4.6, 5.72];
  const scaleCols = [[0, 0, 255], [160, 80, 208], [224, 184, 144], [255, 255, 0], [255, 140, 0], [255, 0, 0]];
  function color(v) {
    v = Math.max(scaleVals[0], Math.min(scaleVals[5], v));
    let i = 0;
    while (i < 4 && v > scaleVals[i + 1]) i++;
    const f = (v - scaleVals[i]) / (scaleVals[i + 1] - scaleVals[i]);
    const c = scaleCols[i].map((a, j) => Math.round(a + (scaleCols[i + 1][j] - a) * f));
    return "rgb(" + c.join(",") + ")";
  }
  const diam = n => 8 + 22 * Math.sqrt((n - 2) / 6);
  ratioMinor.forEach(v => {
    const el = mk(g, "line", {x1: X(v), x2: X(v), y1: T, y2: B, stroke: "#f2f2f2", "stroke-width": 1.2});
    
    
  });
  ratioTicks.forEach(v => {
    const el = mk(g, "line", {x1: X(v), x2: X(v), y1: T, y2: B, stroke: "#e6e6e6", "stroke-width": 1.8});
    
    
    const t = mk(g, "line", {x1: X(v), x2: X(v), y1: B, y2: B + 5, stroke: "#555", "stroke-width": 1.5});
    
    
    const lab = mk(g, "text", {x: X(v) + 2, y: 972, "font-size": 25, "text-anchor": "middle"}, v.toFixed(1));
    
    
  });
  pathways.forEach((name, i) => {
    const y = Y(i);
    const el = mk(g, "line", {x1: L, x2: R, y1: y, y2: y, stroke: "#ececec", "stroke-width": 2.2});
    
    
    const t = mk(g, "line", {x1: L - 6, x2: L, y1: y, y2: y, stroke: "#444", "stroke-width": 1.6});
    
    
    const lab = mk(g, "text", {x: 1303, y: y + 6, "font-size": 21.3, "text-anchor": "end", style: "fill:#333"}, name);
    
    
  });
  const frame = mk(g, "rect", {x: L, y: T, width: R - L, height: B - T, fill: "none", stroke: "#999", "stroke-width": 2});
  
  
  pathways.forEach((name, i) => {
    const c = mk(g, "circle", {cx: X(pathwayRatio[i]), cy: Y(i) + 1, r: diam(pathwayNumber[i]) / 2, fill: color(pathwayLogP[i])});
    
    
  });
  // colour bar
  const grad = document.getElementById("cbar");
  scaleVals.forEach((v, i) => {
    mk(grad, "stop", {offset: (v - 1.25) / (5.72 - 1.25), "stop-color": color(v)});
  });
  const CY = linear(2, 5, 410, 294);
  const bar = mk(g, "rect", {x: 1915.5, y: CY(5.72), width: 35.5, height: CY(1.25) - CY(5.72), fill: "url(#cbar)"});
  
  
  colorbarTicks.forEach(v => {
    const t = mk(g, "text", {x: 1959.5, y: CY(v) + 11, "font-size": 29}, String(v));
    
    
  });
  const LY = linear(2, 8, 535, 744);
  numberLegend.forEach(n => {
    const c = mk(g, "circle", {cx: 1933, cy: LY(n), r: diam(n) / 2, fill: "#000"});
    
    
    const t = mk(g, "text", {x: 1959.5, y: LY(n) + 11, "font-size": 29}, String(n));
    
    
  });
})();

// ---------- Panel C ----------
(function () {
  const g = document.getElementById("panelC");
  const NX = v => v / 1.307, NY = v => 880 + v / 1.537;
  const idx = {};
  geneNodes.forEach(n => { idx[n[0]] = n; });
  function drawEdge(from, to, w, col, op, name) {
    const a = idx[from], b = idx[to];
    const l = mk(g, "line", {x1: NX(a[1]), y1: NY(a[2]), x2: NX(b[1]), y2: NY(b[2]), stroke: col, "stroke-opacity": op, "stroke-width": w});
    
    
  }
  const pastelCols = ["#c9a6dc", "#9cc8ee", "#93dd93"];
  thinPastelEdges.forEach((s, i) => {
    const p = s.split(" ");
    p.slice(1).forEach((t, j) => drawEdge(p[0], t, 1.6, pastelCols[(i + j) % 3], 0.55, "thin-pastel-edge"));
  });
  thinPhysicalEdges.forEach(s => {
    const p = s.split(" ");
    p.slice(1).forEach(t => drawEdge(p[0], t, 1.8, "#ec8f94", 0.38, "thin-physical-edge"));
  });
  thinPredictedEdges.forEach(s => {
    const p = s.split(" ");
    p.slice(1).forEach(t => drawEdge(p[0], t, 2, "#f4b475", 0.35, "thin-predicted-edge"));
  });
  const edgeGroups = [
    [physicalEdges, "#ec8f94", 0.34, "physical-edge", 1],
    [coexpressionEdges, "#c9a6dc", 0.5, "coexpression-edge", 1],
    [sharedEdges, "#d8cf8f", 0.5, "shared-domain-edge", 1],
    [pathwayEdges, "#9cc8ee", 0.5, "pathway-edge", 1],
    [geneticEdges, "#93dd93", 0.5, "genetic-edge", 1],
    [predictedEdges, "#f4b475", 0.4, "predicted-edge", 0.85]
  ];
  edgeGroups.forEach(grp => {
    grp[0].forEach(s => {
      const p = s.split(" ");
      drawEdge(p[0], p[1], +p[2] * grp[4], grp[1], grp[2], grp[3]);
    });
  });
  geneNodes.forEach(n => {
    const e = mk(g, "ellipse", {cx: NX(n[1]), cy: NY(n[2]), rx: n[3] / 1.307, ry: n[4] / 1.537, fill: n[5] ? "url(#hatch)" : "#454545"});
    
    
  });
  geneNodes.forEach(n => {
    const halo = genesWithHalo.indexOf(n[0]) >= 0;
    const t = mk(g, "text", {x: NX(n[1]), y: NY(n[2]) + 7, "font-size": 22.5, "text-anchor": "middle", style: "fill:#ececec;paint-order:stroke;stroke:" + (halo ? "#5c5c5c" : "#454545") + ";stroke-width:" + (halo ? 3 : 1) + "px"}, n[0]);
    
    
  });
  const swatchCols = ["#f5b87a", "#eb9a9c", "#c8a8d8", "#d8cf8f", "#90d0e0", "#8fd88f"];
  networkTypes.forEach((name, i) => {
    const y = 1769 + i * 36;
    const r = mk(g, "rect", {x: 818.5, y: y - 9, width: 16, height: 18, fill: swatchCols[i]});
    
    
    const t = mk(g, "text", {x: 844.7, y: y + 10, "font-size": 29.5}, name);
    
    
  });
})();

// ---------- Panels D–F ----------
function drawScatter(id, cfg) {
  const g = document.getElementById(id);
  const X = linear(4, 8, cfg.x4, cfg.x8), Y = linear(cfg.yA, cfg.yB, cfg.pA, cfg.pB);
  const pts = cfg.band.x.map((v, i) => X(v).toFixed(1) + "," + Y(cfg.band.hi[i]).toFixed(1))
    .concat(cfg.band.x.map((v, i) => X(v).toFixed(1) + "," + Y(cfg.band.lo[i]).toFixed(1)).reverse());
  const band = mk(g, "polygon", {points: pts.join(" "), fill: "#999", "fill-opacity": 0.2});
  
  
  cfg.points.forEach(p => {
    const c = mk(g, "circle", {cx: X(p[0]), cy: Y(p[1]), r: 6.8, fill: cfg.color, "fill-opacity": 0.58});
    
    
  });
  const fit = mk(g, "line", {x1: X(cfg.fit[0][0]), y1: Y(cfg.fit[0][1]), x2: X(cfg.fit[1][0]), y2: Y(cfg.fit[1][1]), stroke: "#111", "stroke-width": 3.6});
  
  
  const ax = mk(g, "path", {d: "M" + cfg.L + " " + cfg.T + "V" + cfg.B + "H" + cfg.R, fill: "none", stroke: "#111", "stroke-width": 3});
  
  
  cfg.xTicks.forEach(v => {
    const t = mk(g, "line", {x1: X(v), x2: X(v), y1: cfg.B, y2: cfg.B + 14, stroke: "#111", "stroke-width": 2.6});
    
    
    const l = mk(g, "text", {x: X(v) + 3, y: cfg.xLabY, "font-size": 32.5, "text-anchor": "middle"}, String(v));
    
    
  });
  cfg.yTicks.forEach(v => {
    const t = mk(g, "line", {x1: cfg.L - 14, x2: cfg.L, y1: Y(v), y2: Y(v), stroke: "#111", "stroke-width": 2.6});
    
    
    const l = mk(g, "text", {x: cfg.yLabX, y: Y(v) + 11, "font-size": 32.5, "text-anchor": "end"}, String(v));
    
    
  });
}
drawScatter("panelD", {x4: 1516.7, x8: 1839.3, yA: 4, yB: 8, pA: 1593.7, pB: 1155.5, L: 1397.3, R: 1973, T: 1074, B: 1673.8, xLabY: 1729, yLabX: 1369, points: mapk1Points.concat(mapk1DensePoints), fit: mapk1Fit, band: {x: mapk1BandX, lo: mapk1BandLow, hi: mapk1BandHigh}, xTicks: expressionTicks, yTicks: mapk1Ticks, color: "#3440e6"});
drawScatter("panelE", {x4: 305.6, x8: 617.9, yA: 4, yB: 7, pA: 2489, pB: 2102.9, L: 189.8, R: 748.5, T: 1982, B: 2564.7, xLabY: 2617, yLabX: 161, points: mapk3Points.concat(mapk3DensePoints), fit: mapk3Fit, band: {x: mapk3BandX, lo: mapk3BandLow, hi: mapk3BandHigh}, xTicks: expressionTicks, yTicks: mapk3Ticks, color: "#2563eb"});
drawScatter("panelF", {x4: 1521.9, x8: 1843, yA: 4, yB: 8, pA: 2468.6, pB: 2112.5, L: 1403.8, R: 1977.6, T: 1958, B: 2555.6, xLabY: 2608, yLabX: 1375, points: junPoints.concat(junDensePoints), fit: junFit, band: {x: junBandX, lo: junBandLow, hi: junBandHigh}, xTicks: expressionTicks, yTicks: junTicks, color: "#2860ea"});
</script>
</body></html>
